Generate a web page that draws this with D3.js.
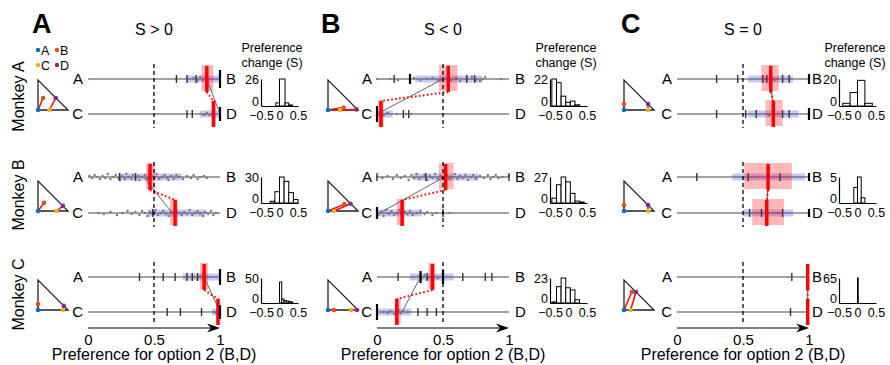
<!DOCTYPE html>
<html>
<head>
<meta charset="utf-8">
<script src="https://cdn.jsdelivr.net/npm/d3@7"></script>
<style>
  body { margin: 0; background: #fff; }
  text { font-family: "Liberation Sans", Arial, sans-serif; }
</style>
</head>
<body>
<svg id="fig" width="890" height="365"></svg>
<script>
// ---- data ----
const panelNames = ['A', 'B', 'C'];
const panelTitles = ['S > 0', 'S < 0', 'S = 0'];
const monkeys = ['Monkey A', 'Monkey B', 'Monkey C'];
const axisTicks = [0, 0.5, 1];
const histTicks = [-0.5, 0, 0.5];

// subpanel order: A/MonkeyA, A/MonkeyB, A/MonkeyC, B/MonkeyA, ... C/MonkeyC
const medAB = [0.90, 0.47, 0.88, 0.54, 0.52, 0.42, 0.71, 0.69, 0.99];
const medCD = [0.95, 0.66, 0.985, 0.03, 0.19, 0.15, 0.73, 0.68, 0.99];
const ciAB = [[0.86, 0.95], [0.44, 0.51], [0.85, 0.91], [0.47, 0.61], [0.47, 0.58], [0.39, 0.44], [0.64, 0.77], [0.51, 0.87], null];
const ciCD = [[0.94, 0.97], [0.62, 0.68], [0.975, 0.995], [0.01, 0.05], [0.15, 0.21], [0.14, 0.18], [0.67, 0.80], [0.57, 0.81], null];
const iqrAB = [[0.75, 1.0], [0.23, 0.71], [0.72, 1.0], [0.29, 0.80], [0.27, 0.77], [0.25, 0.58], [0.54, 0.88], [0.42, 0.97], null];
const iqrCD = [[0.85, 1.0], [0.45, 0.89], [0.94, 1.0], [0.0, 0.12], [0.0, 0.34], [0.0, 0.26], [0.54, 0.92], [0.50, 0.88], null];
const predFrom = [0.90, 0.42, 0.88, 0.50, 0.51, 0.33, 0.71, 0.69, 0.99];
const predTo = [1.0, 0.64, 1.0, 0.0, 0.02, 0.19, 0.73, 0.68, 0.99];

// gray trial points: [preference, vertical jitter]
const scatAB = [
  [[0.67, 0], [0.80, -1], [0.83, 1], [0.85, -2], [0.87, 1], [0.89, -1]],
  [[0.01, -1], [0.03, 1], [0.05, -2], [0.07, 0], [0.09, 2], [0.11, -1], [0.13, 1], [0.15, -3], [0.17, 2], [0.19, 0],
   [0.21, -2], [0.23, 1], [0.24, 3], [0.26, -1], [0.28, 2], [0.29, -3], [0.31, 0], [0.33, 2], [0.34, -2], [0.36, 1],
   [0.38, -1], [0.39, 3], [0.41, 0], [0.43, -2], [0.45, 2], [0.48, -1], [0.50, 1], [0.52, -3], [0.54, 2], [0.56, 0],
   [0.58, -2], [0.60, 1], [0.61, 3], [0.63, -1], [0.65, 2], [0.67, -2], [0.69, 0], [0.72, 2], [0.75, -1], [0.78, 1],
   [0.80, -2], [0.83, 2], [0.85, 0], [0.88, -1], [0.90, 1]],
  [[0.80, 0], [0.83, 1], [0.85, -1], [0.87, 1]],
  [[0.0, 0], [0.10, 0], [0.16, 1], [0.28, -1], [0.33, 1], [0.38, 0], [0.42, -1], [0.46, 1], [0.50, -1], [0.56, 1],
   [0.60, -1], [0.63, 2], [0.68, 0], [0.72, -2], [0.75, 1], [0.78, 2], [0.80, 0], [0.82, -2], [0.94, 0]],
  [[0.0, 0], [0.04, 1], [0.08, -1], [0.12, 2], [0.15, -2], [0.18, 1], [0.21, -1], [0.24, 3], [0.26, -2], [0.28, 1],
   [0.30, -3], [0.32, 2], [0.34, 0], [0.36, -2], [0.38, 3], [0.40, -1], [0.42, 1], [0.44, -3], [0.46, 2], [0.48, -1],
   [0.50, 1], [0.53, -2], [0.55, 2], [0.57, 0], [0.59, -3], [0.61, 2], [0.63, -1], [0.65, 1], [0.67, -2], [0.69, 3],
   [0.71, 0], [0.73, -2], [0.75, 2], [0.78, -1], [0.81, 1], [0.84, -2], [0.86, 2], [0.88, 0], [0.90, -2], [0.92, 1],
   [0.95, 0], [1.0, -1]],
  [[0.32, -1], [0.34, 1], [0.36, -2], [0.38, 2], [0.40, 0], [0.43, -1], [0.46, 1]],
  [[0.72, -1], [0.74, 1], [0.76, 0]],
  [],
  []
];
const scatCD = [
  [[0.85, 0], [0.88, 1], [0.90, -1], [0.92, 1], [0.94, 0]],
  [[0.08, 0], [0.12, 1], [0.17, -1], [0.22, 2], [0.26, 0], [0.30, -2], [0.33, 1], [0.36, -1], [0.39, 2], [0.41, -2],
   [0.43, 0], [0.45, 3], [0.47, -1], [0.49, 1], [0.51, -3], [0.53, 2], [0.55, 0], [0.57, -2], [0.59, 1], [0.61, 3],
   [0.63, -1], [0.65, 2], [0.67, -2], [0.69, 0], [0.71, 2], [0.73, -1], [0.75, 1], [0.77, -3], [0.79, 2], [0.81, 0],
   [0.83, -2], [0.85, 1], [0.87, 3], [0.89, -1], [0.91, 1], [0.93, -2], [0.95, 2], [0.97, 0]],
  [[0.95, 0], [0.97, 1]],
  [[0.02, 0], [0.05, 1], [0.08, -1], [0.15, 0], [0.22, 0], [0.26, 0]],
  [[0.0, -2], [0.01, 2], [0.03, -1], [0.05, 3], [0.07, -3], [0.09, 1], [0.11, -2], [0.13, 2], [0.15, 0], [0.17, -3],
   [0.19, 3], [0.21, -1], [0.23, 1], [0.25, -2], [0.27, 2], [0.30, 0], [0.33, -2], [0.36, 1], [0.38, -1], [0.42, 2],
   [0.45, 0], [0.50, -1], [0.55, 0]],
  [[0.05, 0], [0.08, 1], [0.10, -1], [0.13, 2], [0.16, -2], [0.18, 1], [0.20, -1], [0.23, 0]],
  [[0.70, 1], [0.73, -1]],
  [],
  []
];
// short black ticks on each line
const ticksAB = [[0.67, 0.75, 0.82], [0.24, 0.36], [0.39, 0.57, 0.66, 0.75, 0.79, 0.83], [0.13, 0.68, 0.74], [0.0, 0.37, 1.0],
  [0.16, 0.38, 0.65, 0.82, 0.87], [0.30, 0.46, 0.65, 0.68, 0.80, 0.85], [0.15, 0.54, 0.78], [0.87]];
const ticksCD = [[0.75, 0.79], [0.49], [0.60, 0.70, 0.86], [0.20, 0.24], [0.50], [0.31, 0.38, 0.45],
  [0.30, 0.52, 0.60, 0.80, 0.85], [0.55, 0.64, 0.80], [0.86]];
// thick black bars: [position, half height]
const barsAB = [[[1.0, 9]], [], [[1.0, 8]], [[0.25, 5]], [], [[0.33, 6], [0.5, 7]], [[1.0, 5]], [[1.0, 4]], []];
const barsCD = [[[1.0, 7]], [], [[1.0, 7]], [[0.0, 8]], [[0.0, 6]], [[0.0, 8]], [[1.0, 6]], [[1.0, 4]], []];

// triangle positions of options A, B, C, D (u, v)
const triA = [[0, 0], [0, 0], [0, 0], [0, 0], [0, 0], [0, 0], [0, 0], [0, 0], [0, 0]];
const triB = [[0.17, 0.40], [0.20, 0.27], [0, 0.20], [0.52, 0.08], [0.55, 0.23], [0.20, 0], [0, 0.20], [0, 0.20], [0.26, 0.60]];
const triC = [[0.38, 0], [0.62, 0], [0.83, 0], [0.40, 0], [0.20, 0], [0.77, 0], [0.80, 0], [0.80, 0], [0.22, 0]];
const triD = [[0.59, 0.40], [0.83, 0.17], [0.86, 0.14], [0.95, 0.02], [0.75, 0.24], [0.97, 0], [0.80, 0.20], [0.80, 0.20], [0.40, 0.60]];

// histograms of preference change: [lo, hi, count]
const histBins = [
  [[-0.1, 0, 3], [0, 0.15, 26], [0.15, 0.25, 3], [0.25, 0.35, 1]],
  [[-0.25, -0.125, 2], [-0.125, 0, 13], [0, 0.125, 30], [0.125, 0.25, 25], [0.25, 0.375, 12], [0.375, 0.5, 4]],
  [[0, 0.06, 42], [0.06, 0.12, 8], [0.12, 0.18, 5], [0.18, 0.24, 4], [0.24, 0.3, 3], [0.3, 0.36, 2]],
  [[-0.45, -0.325, 22], [-0.325, -0.2, 19], [-0.2, -0.075, 8], [-0.075, 0.05, 3], [0.05, 0.175, 4], [0.175, 0.3, 1]],
  [[-0.45, -0.325, 5], [-0.325, -0.2, 19], [-0.2, -0.075, 27], [-0.075, 0.05, 22], [0.05, 0.175, 10], [0.175, 0.3, 2], [0.3, 0.425, 1]],
  [[-0.45, -0.325, 1], [-0.325, -0.2, 15], [-0.2, -0.075, 23], [-0.075, 0.05, 14], [0.05, 0.175, 12], [0.175, 0.3, 3]],
  [[-0.4, -0.2, 2], [-0.2, 0, 10], [0, 0.2, 19], [0.2, 0.4, 2]],
  [[-0.1, 0, 3], [0, 0.1, 5], [0.1, 0.2, 1]],
  [[0, 0.02, 65]]
];
const histMax = [26, 30, 50, 22, 27, 23, 20, 5, 65];

// ---- layout ----
const FONT = '"Liberation Sans", Arial, sans-serif';
const panelX0 = [88, 377, 677];
const axisW = 132;
const rowA = [79, 177, 277];
const rowC = [114, 213, 312];
const axisY = 328;
const triLeft = [38, 328, 624];
const triBottom = [110, 211, 310];
const triSize = 30;
const histX0 = [261, 550, 839];
const histW = 37;
const histTop = [79, 177, 278];
const histBottom = [106, 203, 303];
const optColor = { A: '#0072BD', B: '#D95319', C: '#EDB120', D: '#7E2F8E' };

const svg = d3.select('#fig');

// monkey labels
monkeys.forEach((name, m) => {
  svg.append('text')
    .attr('transform', `translate(24,${(rowA[m] + rowC[m]) / 2}) rotate(-90)`)
    .attr('text-anchor', 'middle')
    .attr('font-size', 16)
    .text(name);
});

// legend of option colors
[['A', 38, 50], ['B', 57, 50], ['C', 38, 65], ['D', 57, 65]].forEach(([k, lx, ly]) => {
  svg.append('circle').attr('cx', lx).attr('cy', ly).attr('r', 2.2).attr('fill', optColor[k]);
  svg.append('text').attr('x', lx + 3).attr('y', ly + 4.5).attr('font-size', 12.5).text(k);
});

panelNames.forEach((pname, p) => {
  const x = d3.scaleLinear().domain([0, 1]).range([panelX0[p], panelX0[p] + axisW]);
  const mid = x(0.5);

  // panel letter and title
  svg.append('text').attr('x', panelX0[p] - 56).attr('y', 33)
    .attr('font-size', 27).attr('font-weight', 'bold').text(pname);
  svg.append('text').attr('x', mid).attr('y', 35).attr('text-anchor', 'middle')
    .attr('font-size', 16).text(panelTitles[p]);

  // histogram title
  const hmid = histX0[p] + (p === 0 ? 11 : 16);
  svg.append('text').attr('x', hmid).attr('y', 52).attr('text-anchor', 'middle')
    .attr('font-size', 12.5).text('Preference');
  svg.append('text').attr('x', hmid).attr('y', 67).attr('text-anchor', 'middle')
    .attr('font-size', 12.5).text('change (S)');

  monkeys.forEach((mname, m) => {
    const i = p * 3 + m;
    const yA = rowA[m], yC = rowC[m];
    const g = svg.append('g');

    const rows = [
      { y: yA, left: 'A', right: 'B', iqr: iqrAB[i], ci: ciAB[i], med: medAB[i], scat: scatAB[i], ticks: ticksAB[i], bars: barsAB[i] },
      { y: yC, left: 'C', right: 'D', iqr: iqrCD[i], ci: ciCD[i], med: medCD[i], scat: scatCD[i], ticks: ticksCD[i], bars: barsCD[i] }
    ];

    rows.forEach(r => {
      g.append('line').attr('x1', x(0)).attr('x2', x(1)).attr('y1', r.y).attr('y2', r.y)
        .attr('stroke', '#444').attr('stroke-width', 1);
      g.append('text').attr('x', x(0) - 5).attr('y', r.y + 5).attr('text-anchor', 'end')
        .attr('font-size', 15).text(r.left);
      g.append('text').attr('x', x(1) + (p === 2 ? 3 : 6)).attr('y', r.y + 5)
        .attr('font-size', 15).text(r.right);
      if (r.iqr) {
        g.append('rect').attr('x', x(r.iqr[0])).attr('width', x(r.iqr[1]) - x(r.iqr[0]))
          .attr('y', r.y - 3.5).attr('height', 7).attr('fill', 'rgba(70,70,225,0.30)');
      }
      g.selectAll(null).data(r.scat).enter().append('circle')
        .attr('cx', d => x(d[0])).attr('cy', d => r.y + d[1])
        .attr('r', 1.2).attr('fill', '#7a7a7a');
      g.selectAll(null).data(r.ticks).enter().append('line')
        .attr('x1', d => x(d)).attr('x2', d => x(d))
        .attr('y1', r.y - 4).attr('y2', r.y + 4)
        .attr('stroke', '#333').attr('stroke-width', 1.4);
      if (r.ci) {
        g.append('rect').attr('x', x(r.ci[0])).attr('width', Math.max(x(r.ci[1]) - x(r.ci[0]), 1))
          .attr('y', r.y - 14).attr('height', 26).attr('fill', 'rgba(255,0,0,0.28)');
      }
    });

    // model prediction line
    g.append('line').attr('x1', x(predFrom[i])).attr('y1', yA).attr('x2', x(predTo[i])).attr('y2', yC)
      .attr('stroke', '#666').attr('stroke-width', 1);

    // red median bars and dotted link
    rows.forEach(r => {
      g.append('line').attr('x1', x(r.med)).attr('x2', x(r.med))
        .attr('y1', r.y - 13).attr('y2', r.y + 13)
        .attr('stroke', '#ff0000').attr('stroke-width', 3.5);
    });
    g.append('line').attr('x1', x(medAB[i])).attr('y1', yA + 13).attr('x2', x(medCD[i])).attr('y2', yC - 13)
      .attr('stroke', '#ff0000').attr('stroke-width', 2).attr('stroke-dasharray', '1.6,2.4');

    // thick black bars
    rows.forEach(r => {
      g.selectAll(null).data(r.bars).enter().append('line')
        .attr('x1', d => x(d[0])).attr('x2', d => x(d[0]))
        .attr('y1', d => r.y - d[1]).attr('y2', d => r.y + d[1])
        .attr('stroke', '#000').attr('stroke-width', 2.2);
    });

    // indifference line
    g.append('line').attr('x1', mid).attr('x2', mid)
      .attr('y1', yA - 15).attr('y2', m === 2 ? axisY - 4 : yC + 14)
      .attr('stroke', '#000').attr('stroke-width', 1.3).attr('stroke-dasharray', '4,3');

    // option triangle
    const tx = d3.scaleLinear().domain([0, 1]).range([triLeft[p], triLeft[p] + triSize]);
    const ty = d3.scaleLinear().domain([0, 1]).range([triBottom[m], triBottom[m] - triSize]);
    g.append('path')
      .attr('d', d3.line()([[tx(0), ty(0)], [tx(1), ty(0)], [tx(0), ty(1)]]) + 'Z')
      .attr('fill', 'none').attr('stroke', '#222').attr('stroke-width', 1.3);
    const pts = { A: triA[i], B: triB[i], C: triC[i], D: triD[i] };
    [['A', 'B'], ['C', 'D']].forEach(([a, b]) => {
      g.append('line').attr('x1', tx(pts[a][0])).attr('y1', ty(pts[a][1]))
        .attr('x2', tx(pts[b][0])).attr('y2', ty(pts[b][1]))
        .attr('stroke', '#ff0000').attr('stroke-width', 1.5);
    });
    Object.keys(pts).forEach(k => {
      g.append('circle').attr('cx', tx(pts[k][0])).attr('cy', ty(pts[k][1]))
        .attr('r', 2.3).attr('fill', optColor[k]);
    });

    // histogram of preference change
    const hx = d3.scaleLinear().domain([-0.5, 0.5]).range([histX0[p], histX0[p] + histW]);
    const hy = d3.scaleLinear().domain([0, histMax[i]]).range([histBottom[m], histTop[m]]);
    g.selectAll(null).data(histBins[i]).enter().append('rect')
      .attr('x', d => hx(d[0])).attr('width', d => hx(d[1]) - hx(d[0]))
      .attr('y', d => hy(d[2])).attr('height', d => hy(0) - hy(d[2]))
      .attr('fill', '#fff').attr('stroke', '#000').attr('stroke-width', 1);
    const yAx = g.append('g').attr('transform', `translate(${hx(-0.5)},0)`)
      .call(d3.axisLeft(hy).tickValues([0, histMax[i]]).tickSize(0).tickPadding(2).tickFormat(d3.format('d')));
    yAx.selectAll('.tick').filter(d => d === 0).select('text').attr('dy', '-0.05em');
    const xAx = g.append('g').attr('transform', `translate(0,${hy(0)})`)
      .call(d3.axisBottom(hx).tickValues(histTicks).tickSize(0).tickPadding(5).tickFormat(d3.format('')));
    [yAx, xAx].forEach(a => {
      a.attr('font-family', FONT).attr('font-size', 12.5);
      a.select('.domain').attr('stroke', '#000').attr('stroke-width', 1.2);
      a.selectAll('text').attr('fill', '#000');
    });
  });

  // bottom arrow axis
  const ax = svg.append('g').attr('transform', `translate(0,${axisY})`)
    .call(d3.axisBottom(x).tickValues(axisTicks).tickSize(0).tickPadding(6).tickFormat(d3.format('')));
  ax.select('.domain').remove();
  ax.attr('font-family', FONT).attr('font-size', 15);
  ax.selectAll('text').attr('fill', '#000');
  svg.append('line').attr('x1', x(0)).attr('x2', x(1) - 8).attr('y1', axisY).attr('y2', axisY)
    .attr('stroke', '#000').attr('stroke-width', 1.2);
  svg.append('path')
    .attr('d', `M${x(1)},${axisY} L${x(1) - 13},${axisY - 4.5} L${x(1) - 9},${axisY} L${x(1) - 13},${axisY + 4.5} Z`)
    .attr('fill', '#000');
  svg.append('text').attr('x', mid).attr('y', 360).attr('text-anchor', 'middle')
    .attr('font-size', 16).text('Preference for option 2 (B,D)');
});
</script>
</body>
</html>
